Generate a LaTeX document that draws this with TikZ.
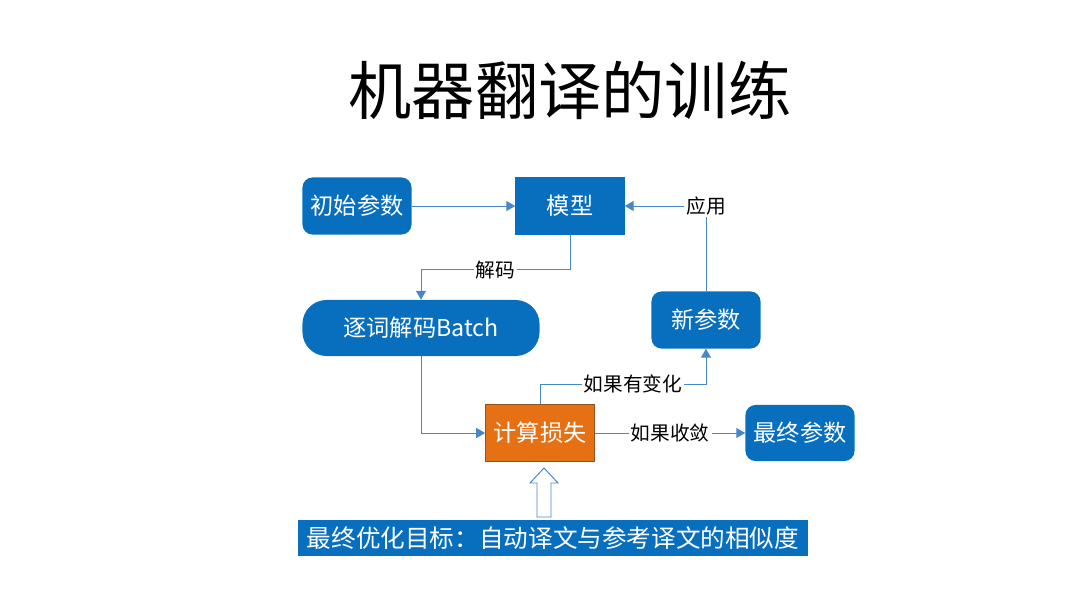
\documentclass[tikz,border=0pt]{standalone}
\usepackage{fontspec}
\setmainfont{Noto Sans CJK SC}
\usetikzlibrary{arrows, calc}
\definecolor{boxblue}{RGB}{8,110,190}
\definecolor{lineblue}{RGB}{70,135,200}
\definecolor{lossorange}{RGB}{230,112,20}
\definecolor{lossedge}{RGB}{150,80,30}

\begin{document}
\begin{tikzpicture}[x=0.025cm, y=-0.025cm,
    param node/.style={fill=boxblue, text=white, rounded corners=0.25cm,
      minimum width=2.725cm, minimum height=1.425cm, inner sep=0pt,
      font=\fontsize{16.5}{18}\selectfont},
    model node/.style={param node, rounded corners=0pt},
    loss node/.style={param node, rounded corners=0pt, fill=lossorange, draw=lossedge, line width=0.6pt},
    conn/.style={draw=lineblue, line width=0.7pt, -triangle 60},
    edge label/.style={fill=white, text=black, inner sep=1.5pt, font=\fontsize{14}{15}\selectfont} ]
    \useasboundingbox (0,0) rectangle (1080,604);
    \node at (570,90) (title) {\fontsize{45}{50}\selectfont 机器翻译的训练};
    \node at (357,206) [param node] (init) {初始参数};
    \node at (570,206) [model node] (model) {模型};
    \node at (421,328) [param node, minimum width=5.925cm, minimum height=1.4cm, rounded corners=0.6cm] (batch) {逐词解码Batch};
    \node at (706,320) [param node] (xin) {新参数};
    \node at (540,433) [loss node] (loss) {计算损失};
    \node at (800,433) [param node, minimum height=1.4cm] (final) {最终参数};
    \node at (553,538) [fill=boxblue, text=white, minimum width=12.75cm, minimum height=0.9cm, inner sep=0pt,
      font=\fontsize{17.5}{19}\selectfont] (goal) {最终优化目标：自动译文与参考译文的相似度};
    \draw [conn] (init) -- (model);
    \draw [conn] (model.south) -- ++(0,35) -| node [edge label, pos=0.25] {解码} (batch.north);
    \draw [conn] (batch.south) |- (loss.west);
    \draw [conn] (loss.north) -- ++(0,-20) -| node [edge label, pos=0.28] {如果有变化} (xin.south);
    \draw [conn] (xin.north) |- node [edge label, pos=0.5] {应用} (model.east);
    \draw [conn] (loss) -- node [edge label] {如果收敛} (final);
    \draw [lineblue, line width=0.7pt, fill=white] (537,517) -- (537,483) -- (530,483) -- (544,468)
      -- (558,483) -- (551,483) -- (551,517) -- cycle;
\end{tikzpicture}
\end{document}
